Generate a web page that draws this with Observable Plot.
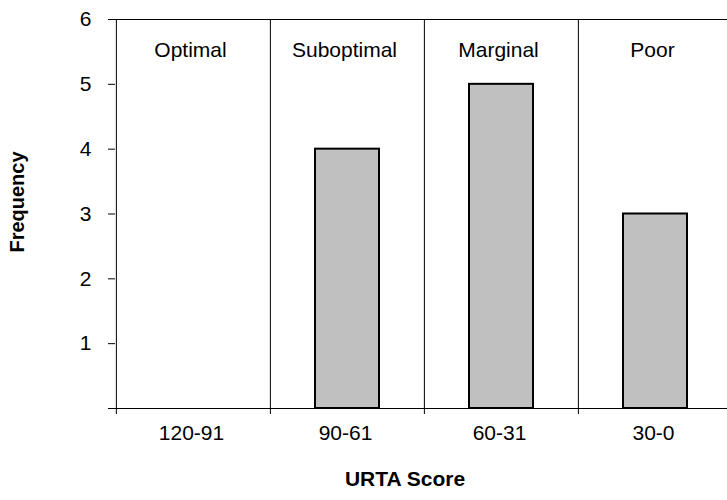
<!DOCTYPE html>
<html>
<head>
<meta charset="utf-8">
<script src="https://cdn.jsdelivr.net/npm/d3@7"></script>
<script src="https://cdn.jsdelivr.net/npm/@observablehq/plot@0.6"></script>
<style>
  html, body { margin: 0; padding: 0; background: #fff; overflow: hidden; }
</style>
</head>
<body>
<div id="chart"></div>
<script>
const categories = ["120-91", "90-61", "60-31", "30-0"];
const ratings = ["Optimal", "Suboptimal", "Marginal", "Poor"];
const frequency = [0, 4, 5, 3];
const yTicks = [1, 2, 3, 4, 5, 6];
const yDomain = [0, 6];

const data = categories.map((c, i) => ({category: c, rating: ratings[i], frequency: frequency[i]}));

const W = 727, H = 500, mL = 115, mR = -5, mT = 19, mB = 92;
const step = (W - mR - mL) / categories.length;

const chart = Plot.plot({
  width: W,
  height: H,
  marginLeft: mL,
  marginRight: mR,
  marginTop: mT,
  marginBottom: mB,
  style: {fontFamily: "'Liberation Sans', Arial, sans-serif", fontSize: "21px", color: "#000", background: "#fff", overflow: "hidden"},
  x: {domain: categories, padding: 0},
  y: {domain: yDomain},
  marks: [
    Plot.barY(data, {x: "category", y: "frequency", filter: d => d.frequency > 0, fill: "#c0c0c0", stroke: "#000", strokeWidth: 2, insetLeft: 45, insetRight: 45}),
    Plot.ruleX(categories, {x: d => d, dx: -step / 2, insetBottom: -6, stroke: "#000"}),
    Plot.ruleY(yDomain, {y: d => d, insetLeft: -7, stroke: "#000"}),
    Plot.axisY(yTicks, {tickSize: 7, tickPadding: 17, tickFormat: d3.format("d"), label: null, fontSize: 21}),
    Plot.axisX({tickSize: 0, tickPadding: 17, label: null, fontSize: 21, dx: -2}),
    Plot.text(data, {x: "category", text: "rating", frameAnchor: "top", dy: 23, dx: -3, fontSize: 21}),
    Plot.text(["Frequency"], {text: d => d, frameAnchor: "left", textAnchor: "middle", rotate: -90, dx: -98, dy: -12, fontWeight: "bold", fontSize: 20}),
    Plot.text(["URTA Score"], {text: d => d, frameAnchor: "bottom", dx: -19, dy: 77, fontWeight: "bold", fontSize: 21})
  ]
});
document.getElementById("chart").appendChild(chart);
</script>
</body>
</html>
